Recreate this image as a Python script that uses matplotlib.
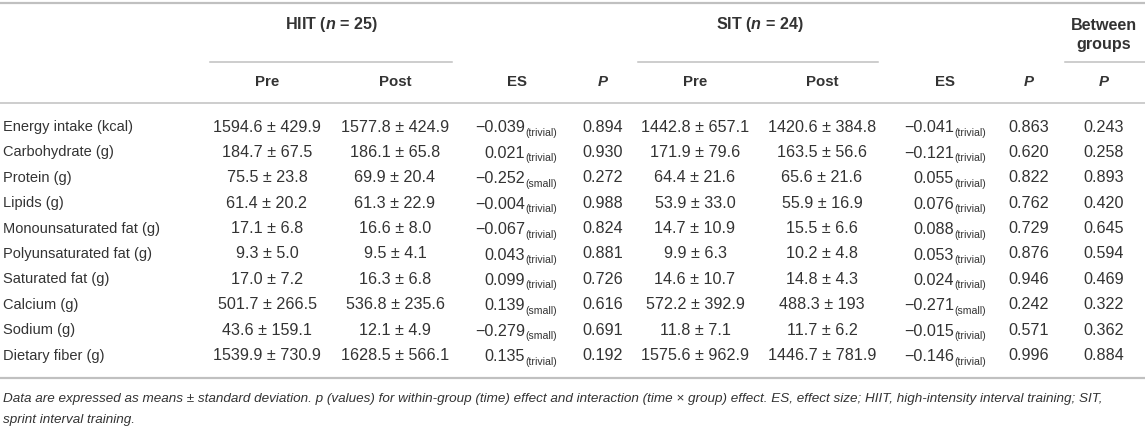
import matplotlib
matplotlib.use("Agg")
import matplotlib.pyplot as plt

plt.rcParams['font.family'] = ['Liberation Sans', 'DejaVu Sans']
plt.rcParams['mathtext.fontset'] = 'custom'
plt.rcParams['mathtext.it'] = 'Liberation Sans:italic:bold'
plt.rcParams['mathtext.rm'] = 'Liberation Sans:bold'

# table contents
labels = ['Energy intake (kcal)', 'Carbohydrate (g)', 'Protein (g)', 'Lipids (g)',
          'Monounsaturated fat (g)', 'Polyunsaturated fat (g)', 'Saturated fat (g)',
          'Calcium (g)', 'Sodium (g)', 'Dietary fiber (g)']

hiit_pre = ['1594.6 ± 429.9', '184.7 ± 67.5', '75.5 ± 23.8', '61.4 ± 20.2', '17.1 ± 6.8',
            '9.3 ± 5.0', '17.0 ± 7.2', '501.7 ± 266.5', '43.6 ± 159.1', '1539.9 ± 730.9']
hiit_post = ['1577.8 ± 424.9', '186.1 ± 65.8', '69.9 ± 20.4', '61.3 ± 22.9', '16.6 ± 8.0',
             '9.5 ± 4.1', '16.3 ± 6.8', '536.8 ± 235.6', '12.1 ± 4.9', '1628.5 ± 566.1']
hiit_es = [-0.039, 0.021, -0.252, -0.004, -0.067, 0.043, 0.099, 0.139, -0.279, 0.135]
hiit_es_size = ['trivial', 'trivial', 'small', 'trivial', 'trivial', 'trivial', 'trivial',
                'small', 'small', 'trivial']
hiit_p = [0.894, 0.930, 0.272, 0.988, 0.824, 0.881, 0.726, 0.616, 0.691, 0.192]

sit_pre = ['1442.8 ± 657.1', '171.9 ± 79.6', '64.4 ± 21.6', '53.9 ± 33.0', '14.7 ± 10.9',
           '9.9 ± 6.3', '14.6 ± 10.7', '572.2 ± 392.9', '11.8 ± 7.1', '1575.6 ± 962.9']
sit_post = ['1420.6 ± 384.8', '163.5 ± 56.6', '65.6 ± 21.6', '55.9 ± 16.9', '15.5 ± 6.6',
            '10.2 ± 4.8', '14.8 ± 4.3', '488.3 ± 193', '11.7 ± 6.2', '1446.7 ± 781.9']
sit_es = [-0.041, -0.121, 0.055, 0.076, 0.088, 0.053, 0.024, -0.271, -0.015, -0.146]
sit_es_size = ['trivial', 'trivial', 'trivial', 'trivial', 'trivial', 'trivial', 'trivial',
               'small', 'trivial', 'trivial']
sit_p = [0.863, 0.620, 0.822, 0.762, 0.729, 0.876, 0.946, 0.242, 0.571, 0.996]
between_p = [0.243, 0.258, 0.893, 0.420, 0.645, 0.594, 0.469, 0.322, 0.362, 0.884]

footnote = ['Data are expressed as means ± standard deviation. p (values) for within-group (time) '
            'effect and interaction (time × group) effect. ES, effect size; HIIT, high-intensity '
            'interval training; SIT,',
            'sprint interval training.']

txt = '#333333'
rule = '#c0c0c0'
fs_lab = 10.5
fs_val = 11.6

fig = plt.figure(figsize=(11.45, 4.33), dpi=100)
ax = fig.add_axes([0, 0, 1, 1])
ax.set_xlim(0, 1145)
ax.set_ylim(433, 0)
ax.axis('off')

# column x positions (centres; es = right edge of the number)
x_pre1, x_post1, x_es1, x_p1 = 267, 395, 525, 603
x_pre2, x_post2, x_es2, x_p2 = 695, 822, 954, 1029
x_p3 = 1104

row0, row_h = 127, 25.4
y_bottom = row0 + 9 * row_h + 22

# rules
ax.plot([0, 1145], [3, 3], color=rule, lw=1.6)
ax.plot([210, 452], [62, 62], color=rule, lw=1.1)
ax.plot([638, 878], [62, 62], color=rule, lw=1.1)
ax.plot([1065, 1145], [62, 62], color=rule, lw=1.1)
ax.plot([0, 1145], [103, 103], color=rule, lw=1.1)
ax.plot([0, 1145], [y_bottom, y_bottom], color=rule, lw=1.6)

# headers
hb = dict(color=txt, fontweight='bold', ha='center', va='center')
ax.text(331, 25, 'HIIT ($n$ = 25)', fontsize=11.6, **hb)
ax.text(760, 25, 'SIT ($n$ = 24)', fontsize=11.6, **hb)
ax.text(1104, 25, 'Between', fontsize=11.6, **hb)
ax.text(1104, 45, 'groups', fontsize=11.6, **hb)
for x, h in [(x_pre1, 'Pre'), (x_post1, 'Post'), (517, 'ES'),
             (x_pre2, 'Pre'), (x_post2, 'Post'), (945, 'ES')]:
    ax.text(x, 82, h, fontsize=10.8, **hb)
for x in [x_p1, x_p2, x_p3]:
    ax.text(x, 82, 'P', fontsize=10.8, fontstyle='italic', **hb)


def es_cell(x, y, val, size):
    s = f'{val:.3f}'.replace('-', '\u2212')
    ax.text(x, y + 5.5, s, color=txt, fontsize=fs_val, ha='right', va='baseline')
    ax.text(x, y + 9, f'({size})', color=txt, fontsize=7.6, ha='left', va='baseline')


cell = dict(color=txt, fontsize=fs_val, va='center')
for i, lab in enumerate(labels):
    y = row0 + i * row_h
    ax.text(3, y, lab, ha='left', color=txt, fontsize=fs_lab, va='center')
    ax.text(x_pre1, y, hiit_pre[i], ha='center', **cell)
    ax.text(x_post1, y, hiit_post[i], ha='center', **cell)
    es_cell(x_es1, y, hiit_es[i], hiit_es_size[i])
    ax.text(x_p1, y, f'{hiit_p[i]:.3f}', ha='center', **cell)
    ax.text(x_pre2, y, sit_pre[i], ha='center', **cell)
    ax.text(x_post2, y, sit_post[i], ha='center', **cell)
    es_cell(x_es2, y, sit_es[i], sit_es_size[i])
    ax.text(x_p2, y, f'{sit_p[i]:.3f}', ha='center', **cell)
    ax.text(x_p3, y, f'{between_p[i]:.3f}', ha='center', **cell)

for j, line in enumerate(footnote):
    ax.text(3, y_bottom + 21 + j * 21, line, color=txt, fontsize=9.7, fontstyle='italic',
            ha='left', va='center')

fig.savefig('out.png', dpi=100)
